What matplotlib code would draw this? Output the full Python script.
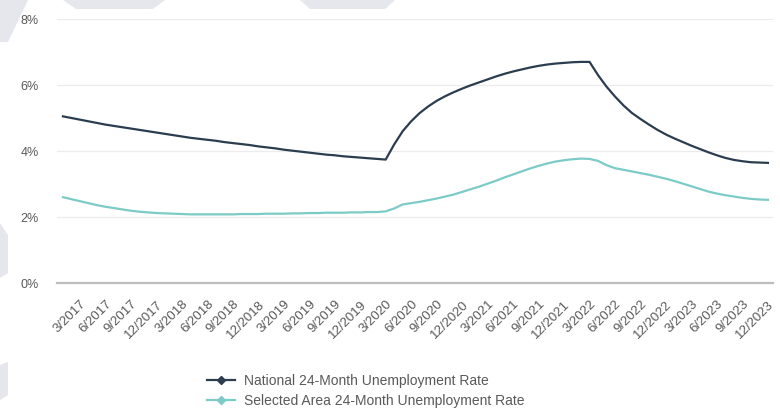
import matplotlib
matplotlib.use("Agg")
import matplotlib.pyplot as plt
from matplotlib.lines import Line2D
from matplotlib.patches import Polygon

# monthly categories 1/2017 .. 12/2023
months = [f"{m}/{y}" for y in range(2017, 2024) for m in range(1, 13)]

national = [
    5.05, 5.00, 4.95, 4.90, 4.85, 4.80, 4.76, 4.72, 4.68, 4.64, 4.60, 4.56,
    4.52, 4.48, 4.44, 4.40, 4.37, 4.34, 4.31, 4.27, 4.24, 4.21, 4.18, 4.14,
    4.11, 4.08, 4.04, 4.01, 3.98, 3.95, 3.92, 3.89, 3.87, 3.84, 3.82, 3.80,
    3.78, 3.76, 3.74, 4.20, 4.60, 4.90, 5.15, 5.35, 5.52, 5.66, 5.78, 5.89,
    5.99, 6.08, 6.17, 6.26, 6.34, 6.41, 6.47, 6.53, 6.58, 6.62, 6.65, 6.67,
    6.69, 6.70, 6.70, 6.30, 5.95, 5.65, 5.38, 5.15, 4.97, 4.80, 4.64, 4.50,
    4.38, 4.27, 4.16, 4.06, 3.96, 3.87, 3.79, 3.73, 3.69, 3.66, 3.65, 3.64,
]

selected = [
    2.60, 2.54, 2.48, 2.42, 2.36, 2.31, 2.27, 2.23, 2.19, 2.16, 2.14, 2.12,
    2.11, 2.10, 2.09, 2.08, 2.08, 2.08, 2.08, 2.08, 2.08, 2.09, 2.09, 2.09,
    2.10, 2.10, 2.10, 2.11, 2.11, 2.12, 2.12, 2.13, 2.13, 2.13, 2.14, 2.14,
    2.15, 2.15, 2.17, 2.26, 2.38, 2.42, 2.46, 2.51, 2.56, 2.62, 2.68, 2.76,
    2.84, 2.92, 3.01, 3.10, 3.20, 3.29, 3.38, 3.47, 3.55, 3.62, 3.68, 3.72,
    3.75, 3.77, 3.76, 3.70, 3.57, 3.48, 3.43, 3.38, 3.33, 3.28, 3.22, 3.16,
    3.09, 3.01, 2.93, 2.85, 2.77, 2.71, 2.66, 2.62, 2.58, 2.55, 2.53, 2.52,
]

series_names = ["National 24-Month Unemployment Rate",
                "Selected Area 24-Month Unemployment Rate"]
colors = ["#2b3d4f", "#7ccbc6"]
y_ticks = [0, 2, 4, 6, 8]

plt.rcParams["font.family"] = ["Liberation Sans", "DejaVu Sans"]
W, H = 780, 409
fig = plt.figure(figsize=(W / 100, H / 100), dpi=100)
fig.patch.set_facecolor("white")

# faint grey background shapes at the edges
shade = "#e6e7ec"
for pts in [
    [(0, 0), (28, 0), (8, 42), (0, 42)],
    [(63, 0), (165, 0), (153, 9), (76, 9)],
    [(300, 0), (395, 0), (385, 9), (310, 9)],
    [(0, 223), (8, 235), (8, 273), (0, 278)],
    [(0, 365), (8, 362), (8, 395), (0, 400)],
]:
    fig.add_artist(Polygon([(x / W, 1 - y / H) for x, y in pts], closed=True,
                           transform=fig.transFigure, color=shade, lw=0, zorder=0))

ax = fig.add_axes([57 / W, 1 - 283 / H, (773 - 57) / W, (283 - 19) / H])
ax.set_facecolor("none")
x = list(range(len(months)))
ax.plot(x, national, color=colors[0], lw=1.6, zorder=3)
ax.plot(x, selected, color=colors[1], lw=1.6, zorder=3)

ax.set_xlim(-0.7, 83.6)
ax.set_ylim(0, 8)
ax.set_yticks(y_ticks)
ax.set_yticklabels([f"{v}%" for v in y_ticks])
ax.grid(axis="y", color="#ececec", lw=0.9)
ax.set_axisbelow(True)
for s in ["top", "right", "left"]:
    ax.spines[s].set_visible(False)
ax.spines["bottom"].set_color("#bdbdbd")
ax.spines["bottom"].set_linewidth(1.6)

tick_idx = x[2::3]
ax.set_xticks(tick_idx)
ax.set_xticklabels([months[i] for i in tick_idx], rotation=45, ha="right",
                   rotation_mode="anchor", fontsize=9.5, color="#595959")
ax.tick_params(axis="x", length=0, pad=11)
ax.tick_params(axis="y", length=0, pad=13, labelsize=9, labelcolor="#595959")

handles = [Line2D([], [], color=c, lw=1.6, marker="D", markersize=4.5) for c in colors]
fig.legend(handles, series_names, loc="upper left",
           bbox_to_anchor=(200 / W, 1 - 367 / H), frameon=False, fontsize=10,
           labelcolor="#595959", handlelength=2.0, handletextpad=0.7,
           labelspacing=0.45, borderpad=0)

fig.savefig("out.png", dpi=100)
